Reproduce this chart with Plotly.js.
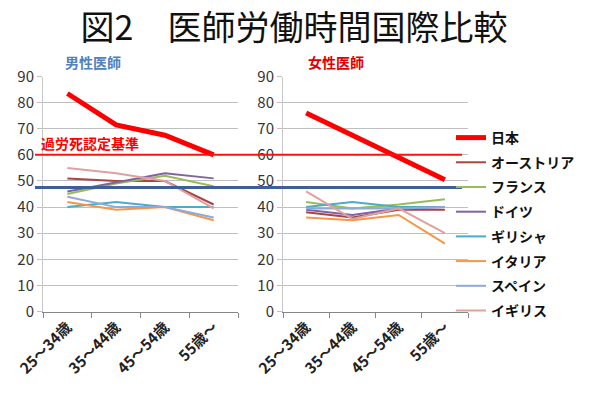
<!DOCTYPE html>
<html>
<head>
<meta charset="utf-8">
<script src="https://cdn.plot.ly/plotly-3.0.1.min.js"></script>
<style>html,body{margin:0;padding:0;background:#fff;}#chart{width:600px;height:398px;}</style>
</head>
<body>
<div id="chart"></div>
<script>
const ageGroups = ["25～34歳", "35～44歳", "45～54歳", "55歳～"];
const countries = ["日本", "オーストリア", "フランス", "ドイツ", "ギリシャ", "イタリア", "スペイン", "イギリス"];
const colors = ["#FF0000", "#A84442", "#9BBB59", "#8064A2", "#4BACC6", "#F79646", "#8EA9DB", "#E0A0A0"];

const maleJapan   = [83.5, 71.5, 67.5, 60];
const maleAustria = [51, 50, 50, 41];
const maleFrance  = [45, 49, 52, 48];
const maleGermany = [46, 49.5, 53, 51];
const maleGreece  = [40, 42, 40, 40];
const maleItaly   = [42, 39, 40, 35];
const maleSpain   = [44, 40, 40, 36];
const maleUK      = [55, 53, 50, 39.5];

const femaleJapan   = [76, 67.5, 59, 50.5];
const femaleAustria = [38, 36, 39, 39];
const femaleFrance  = [42, 39.5, 41, 43];
const femaleGermany = [39, 37, 39.5, 40];
const femaleGreece  = [40, 42, 40, 40];
const femaleItaly   = [36, 35, 37, 26];
const femaleSpain   = [39.5, 39.5, 39.5, 40];
const femaleUK      = [46, 35.5, 39.5, 30];

const karoshiLine = 60;
const blueLine = 47.5;

const maleSeries = [maleJapan, maleAustria, maleFrance, maleGermany, maleGreece, maleItaly, maleSpain, maleUK];
const femaleSeries = [femaleJapan, femaleAustria, femaleFrance, femaleGermany, femaleGreece, femaleItaly, femaleSpain, femaleUK];

const FONT = '"Noto Sans CJK JP", "Noto Sans", sans-serif';
const traces = [];
for (let pass = 0; pass < 2; pass++) {
  countries.forEach((c, i) => {
    if ((pass === 0 && i === 0) || (pass === 1 && i !== 0)) return;
    traces.push({
      x: ageGroups, y: maleSeries[i], type: 'scatter', mode: 'lines', name: c,
      line: {color: colors[i], width: i === 0 ? 5 : 2},
      xaxis: 'x', yaxis: 'y', legendgroup: 'g' + i, legendrank: i + 1, showlegend: true,
      hoverinfo: 'skip'
    });
    traces.push({
      x: ageGroups, y: femaleSeries[i], type: 'scatter', mode: 'lines', name: c,
      line: {color: colors[i], width: i === 0 ? 5 : 2},
      xaxis: 'x2', yaxis: 'y2', legendgroup: 'g' + i, showlegend: false,
      hoverinfo: 'skip'
    });
  });
}

const W = 600, H = 398;
const yDom = [1 - 311.6 / H, 1 - 76.5 / H];
const xAxisCommon = {
  type: 'category', range: [-0.5, ageGroups.length - 0.5], tickson: 'boundaries', ticks: 'outside', ticklen: 5, tickcolor: '#868686',
  showline: true, linecolor: '#868686', linewidth: 1, showgrid: false, zeroline: false,
  tickangle: -45, tickfont: {family: FONT, size: 15, color: '#222', weight: 'bold'},
  fixedrange: true
};
const yAxisCommon = {
  range: [0, 90], dtick: 10, tick0: 0, ticks: 'outside', ticklen: 5, tickcolor: '#BFBFBF',
  showline: true, linecolor: '#C8C8C8', linewidth: 1, showgrid: true, gridcolor: '#BFBFBF', gridwidth: 1,
  zeroline: false, tickfont: {family: FONT, size: 15, color: '#333'}, fixedrange: true,
  domain: yDom
};

const layout = {
  width: W, height: H,
  margin: {l: 0, r: 0, t: 0, b: 0},
  paper_bgcolor: '#fff', plot_bgcolor: '#fff',
  title: {text: '図2　医師労働時間国際比較', x: 294 / W, xanchor: 'center', y: 1 - 28 / H, yanchor: 'middle',
          font: {family: FONT, size: 34, color: '#111'}},
  xaxis: Object.assign({}, xAxisCommon, {domain: [43 / W, 238 / W], anchor: 'y'}),
  yaxis: Object.assign({}, yAxisCommon, {anchor: 'x'}),
  xaxis2: Object.assign({}, xAxisCommon, {domain: [283 / W, 468 / W], anchor: 'y2'}),
  yaxis2: Object.assign({}, yAxisCommon, {anchor: 'x2'}),
  showlegend: true,
  legend: {x: 451 / W, xanchor: 'left', y: 1 - 122 / H, yanchor: 'top', bgcolor: 'rgba(0,0,0,0)',
           font: {family: FONT, size: 14, color: '#111', weight: 'bold'}, tracegroupgap: 3.5,
           traceorder: 'grouped', itemclick: false, itemdoubleclick: false},
  shapes: [
    {type: 'line', xref: 'paper', yref: 'y', x0: 35 / W, x1: 462 / W, y0: karoshiLine, y1: karoshiLine,
     line: {color: '#FF1010', width: 2}, layer: 'above'},
    {type: 'line', xref: 'paper', yref: 'y', x0: 35 / W, x1: 462 / W, y0: blueLine, y1: blueLine,
     line: {color: '#3F5F95', width: 3}, layer: 'above'}
  ],
  annotations: [
    {text: '男性医師', xref: 'paper', yref: 'paper', x: 93 / W, y: 1 - 62 / H, xanchor: 'center', yanchor: 'middle',
     showarrow: false, font: {family: FONT, size: 14, color: '#4F81BD', weight: 'bold'}},
    {text: '女性医師', xref: 'paper', yref: 'paper', x: 336 / W, y: 1 - 62 / H, xanchor: 'center', yanchor: 'middle',
     showarrow: false, font: {family: FONT, size: 14, color: '#E00000', weight: 'bold'}},
    {text: '過労死認定基準', xref: 'paper', yref: 'y', x: 39 / W, y: 64.6, xanchor: 'left', yanchor: 'middle',
     showarrow: false, font: {family: FONT, size: 14, color: '#FF0000', weight: 'bold'}}
  ]
};

Plotly.newPlot('chart', traces, layout, {displayModeBar: false, staticPlot: true});
</script>
</body>
</html>
